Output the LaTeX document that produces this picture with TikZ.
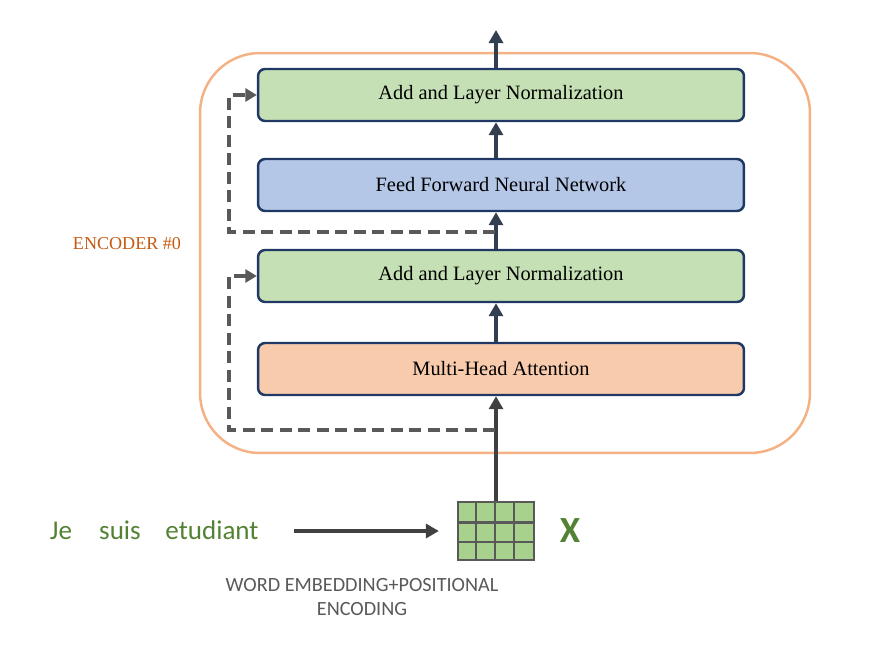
\documentclass[tikz,border=0pt]{standalone}
\usepackage{fontspec}
\setmainfont{Liberation Serif}
\newfontfamily\calibrifont{Carlito}
\usetikzlibrary{arrows.meta,positioning}
\definecolor{encorange}{RGB}{244,177,131}
\definecolor{encbrown}{RGB}{197,90,17}
\definecolor{boxnavy}{RGB}{31,56,100}
\definecolor{addgreen}{RGB}{197,224,180}
\definecolor{ffnblue}{RGB}{180,199,231}
\definecolor{mhaorange}{RGB}{248,203,173}
\definecolor{cellgreen}{RGB}{169,209,142}
\definecolor{wordgreen}{RGB}{84,130,53}
\definecolor{slate}{RGB}{51,63,80}
\definecolor{darkgrey}{RGB}{64,64,64}
\definecolor{midgrey}{RGB}{89,89,89}

\begin{document}
\begin{tikzpicture}[
    x=0.02cm, y=-0.02cm,
    layer/.style={rectangle, rounded corners=4pt, draw=boxnavy, line width=1.4pt, align=center, minimum width=9.72cm, minimum height=1.04cm, font=\fontsize{11.6}{13}\selectfont},
    flow/.style={-{Triangle[length=2.6mm, width=2.8mm]}, line width=2pt, slate},
    resid/.style={-{Triangle[length=2.3mm, width=2.6mm]}, line width=2pt, midgrey, dash pattern=on 2.4mm off 1.3mm},
    word/.style={font=\calibrifont\fontsize{15.4}{18}\selectfont, text=wordgreen, inner sep=0pt, anchor=base}
  ]
    \useasboundingbox (0,0) rectangle (878,657);

    % encoder frame
    \node[rectangle, rounded corners=1.2cm, draw=encorange, line width=1.4pt, minimum width=12.2cm, minimum height=8cm] (encoder) at (505,253) {};
    \node[text=encbrown, font=\fontsize{10.3}{12}\selectfont] (enclabel) at (127,244) {ENCODER \#0};

    % layers
    \node[layer, fill=addgreen] (addtop) at (501,95) {Add and Layer Normalization};
    \node[layer, fill=ffnblue] (ffn) at (501,185) {Feed Forward Neural Network};
    \node[layer, fill=addgreen] (addbot) at (501,276) {Add and Layer Normalization};
    \node[layer, fill=mhaorange] (mha) at (501,369) {Multi-Head Attention};

    % input side
    \node[rectangle, draw=midgrey, line width=1.3pt, fill=cellgreen, minimum width=1.52cm, minimum height=1.16cm, inner sep=0pt] (emb) at (496,531) {};
    \foreach \i in {1,2,3}
      \draw[midgrey, line width=1.2pt] ([xshift=\i*0.38cm]emb.south west) -- ([xshift=\i*0.38cm]emb.north west);
    \foreach \j in {1,2}
      \draw[midgrey, line width=1.2pt] ([yshift=\j*0.3867cm]emb.south west) -- ([yshift=\j*0.3867cm]emb.south east);
    \node[font=\calibrifont\bfseries\fontsize{21}{24}\selectfont, text=wordgreen] (xlabel) at (570,531) {X};

    \node[word] (je) at (61,539) {Je};
    \node[word] (suis) at (120,539) {suis};
    \node[word] (etud) at (212,539) {etudiant};
    \node[font=\calibrifont\fontsize{11.5}{13.6}\selectfont, text=midgrey, align=center] (emblabel) at (362,597) {WORD EMBEDDING+POSITIONAL\\ENCODING};

    \coordinate (top) at (495,30);
    \coordinate (branchlow) at (495,430);
    \coordinate (branchhigh) at (495,232);

    % main flow
    \draw[-{Triangle[length=2.6mm, width=2.8mm]}, line width=2.3pt, darkgrey, shorten <=0.7cm, shorten >=0.36cm] (etud.east |- emb.west) -- (emb.west);
    \draw[-{Triangle[length=2.6mm, width=2.8mm]}, line width=2.2pt, darkgrey] (emb.north) -- (emb.north |- mha.south);
    \draw[flow] (emb.north |- mha.north) -- (emb.north |- addbot.south);
    \draw[flow] (emb.north |- addbot.north) -- (emb.north |- ffn.south);
    \draw[flow] (emb.north |- ffn.north) -- (emb.north |- addtop.south);
    \draw[flow] (emb.north |- addtop.north) -- (emb.north |- top);

    % residual connections
    \draw[resid] (branchlow) -- (229,430) -- (229,276) -- (addbot.west);
    \draw[resid] (branchhigh) -- (229,232) -- (229,95) -- (addtop.west);
  \end{tikzpicture}
\end{document}
